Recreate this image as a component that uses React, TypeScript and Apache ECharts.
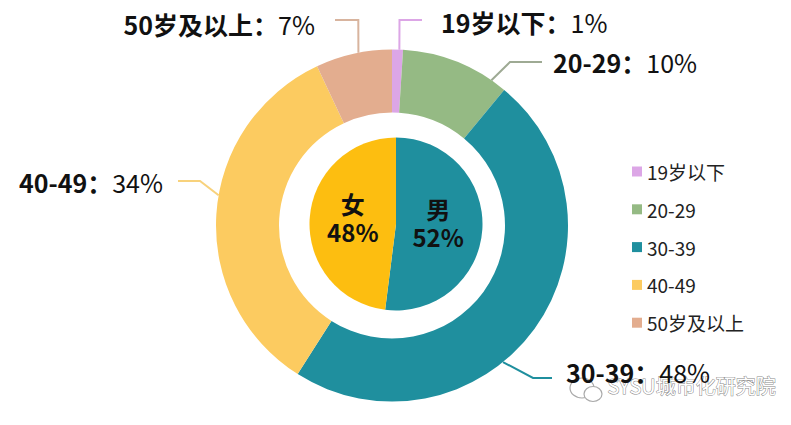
import React, { useEffect, useRef } from "react";
import * as echarts from "echarts";

const AGE_GROUPS = ["19岁以下", "20-29", "30-39", "40-49", "50岁及以上"];
const AGE_SHARE = [1, 10, 48, 34, 7];
const GENDERS = ["男", "女"];
const GENDER_SHARE = [52, 48];

const AGE_COLORS = ["#DCA6E6", "#95BA84", "#1F8F9E", "#FCCB60", "#E3AD8F"];
const LINE_COLORS = ["#DCA6E6", "#9EAA94", "#1F8F9E", "#F8D27C", "#D8B49E"];
const GENDER_COLORS = ["#1F8F9E", "#FDBE10"];
const GENDER_LABEL_OFFSET = [[-4, -4], [3, -4]];

const FONT = "'Noto Sans CJK SC', 'Noto Sans', sans-serif";
const CX = 392;
const CY = 225.5;
const R_OUT = 176;
const R_IN = 113;

// leader-line layout (angle clockwise from 12 o'clock where the line leaves the ring)
const LABEL_LAYOUT = [
  { angle: 2.4, elbow: [399.5, 20], end: [422, 20], text: [441, 22], align: "left" },
  { angle: 34.4, elbow: [510, 62], end: [542, 62], text: [553, 62], align: "left" },
  { angle: 140.9, elbow: [533, 378], end: [552, 378], text: [566, 372], align: "left" },
  { angle: 279.9, elbow: [200, 181], end: [178, 181], text: [163, 182], align: "right" },
  { angle: 349, elbow: [358.3, 20], end: [335, 20], text: [315, 24], align: "right" },
];

export default function App() {
  const ref = useRef<HTMLDivElement>(null);
  useEffect(() => {
    if (!ref.current) return;
    const chart = echarts.init(ref.current, undefined, { renderer: "svg" });
    chart.setOption({
      animation: false,
      backgroundColor: "#ffffff",
      textStyle: { fontFamily: FONT },
      legend: {
        orient: "vertical",
        left: 627,
        top: 157,
        itemWidth: 10,
        itemHeight: 10,
        itemGap: 18.8,
        icon: "rect",
        data: AGE_GROUPS,
        textStyle: { fontSize: 19, color: "#222", fontFamily: FONT },
      },
      series: [
        {
          type: "pie",
          name: "age",
          center: [CX, CY],
          radius: [R_IN, R_OUT],
          startAngle: 90,
          clockwise: true,
          avoidLabelOverlap: false,
          silent: true,
          data: AGE_GROUPS.map((n, i) => ({
            name: n,
            value: AGE_SHARE[i],
            itemStyle: { color: AGE_COLORS[i] },
            labelLine: { lineStyle: { color: LINE_COLORS[i], width: 2 } },
          })),
          label: {
            show: true,
            position: "outside",
            formatter: (p: any) => `{b|${p.name}：}{v|${p.value}%}`,
            rich: {
              b: { fontSize: 25, fontWeight: "bold", color: "#111", fontFamily: FONT },
              v: { fontSize: 25, fontWeight: "normal", color: "#111", fontFamily: FONT },
            },
          },
          labelLine: { show: true, length: 20, length2: 20 },
          labelLayout: (params: any) => {
            const L = LABEL_LAYOUT[params.dataIndex];
            const a = (L.angle * Math.PI) / 180;
            const start = [CX + R_OUT * Math.sin(a), CY - R_OUT * Math.cos(a)];
            return {
              x: L.text[0],
              y: L.text[1],
              align: L.align,
              verticalAlign: "middle",
              labelLinePoints: [start, L.elbow, L.end],
            };
          },
        },
        {
          type: "pie",
          name: "gender",
          center: [396, 224],
          radius: [0, 86.5],
          startAngle: 90,
          clockwise: true,
          silent: true,
          data: GENDERS.map((n, i) => ({
            name: n,
            value: GENDER_SHARE[i],
            itemStyle: { color: GENDER_COLORS[i] },
            label: { offset: GENDER_LABEL_OFFSET[i] },
          })),
          label: {
            show: true,
            position: "inner",
            formatter: (p: any) => `${p.name}\n${p.value}%`,
            fontSize: 24,
            lineHeight: 28,
            fontWeight: "bold",
            color: "#111",
            fontFamily: FONT,
          },
          labelLine: { show: false },
        },
      ],
      graphic: [
        {
          type: "ellipse",
          shape: { cx: 582, cy: 388, rx: 12, ry: 10 },
          style: { fill: "#fff", stroke: "#aaa", lineWidth: 1.2 },
        },
        {
          type: "ellipse",
          shape: { cx: 593, cy: 394, rx: 9, ry: 7.5 },
          style: { fill: "#fff", stroke: "#aaa", lineWidth: 1.2 },
        },
        {
          type: "text",
          left: 607,
          top: 375,
          style: {
            text: "SYSU城市化研究院",
            fontSize: 20,
            fontFamily: FONT,
            fill: "#ffffff",
            stroke: "#8a8a8a",
            lineWidth: 1,
          },
        },
      ],
    });
    return () => chart.dispose();
  }, []);
  return (
    <div
      ref={ref}
      style={{ position: "absolute", left: 0, top: 0, width: 791, height: 425 }}
    />
  );
}
